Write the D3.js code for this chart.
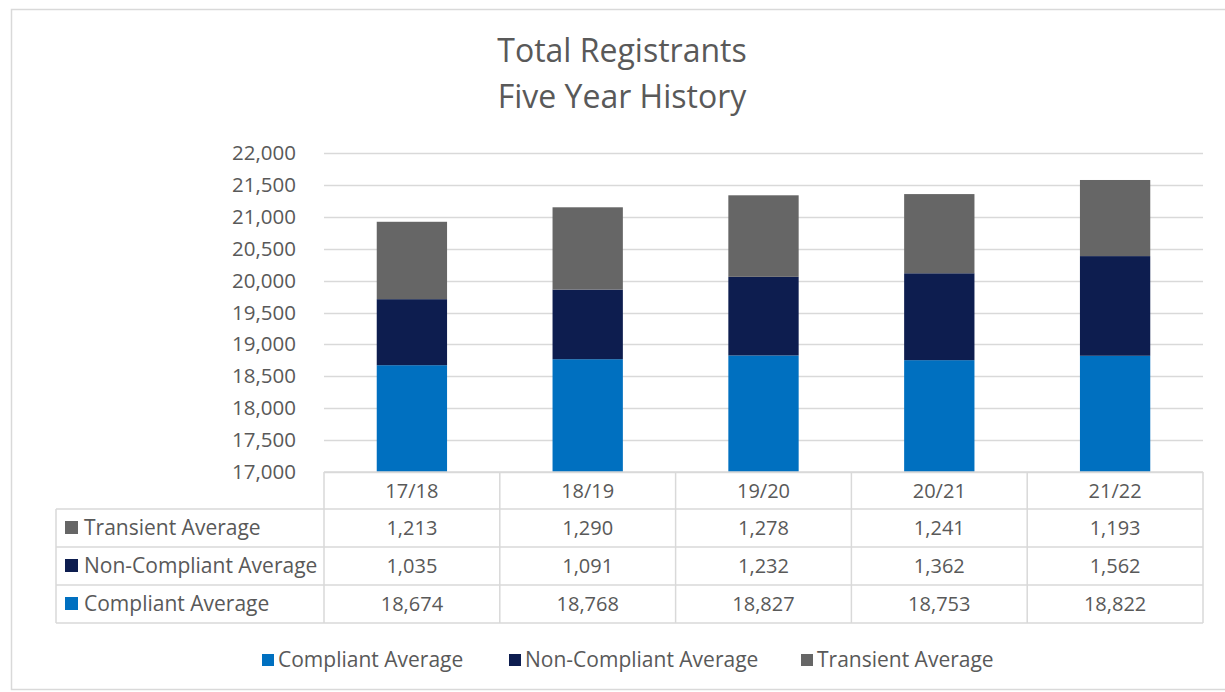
<!DOCTYPE html>
<html>
<head>
<meta charset="utf-8">
<script src="https://cdn.jsdelivr.net/npm/d3@7"></script>
<style>
  html, body { margin: 0; padding: 0; background: #fff; }
  svg { display: block; }
  text { font-family: "Open Sans", Lato, sans-serif; fill: #595959; }
</style>
</head>
<body>
<svg id="chart" width="1225" height="692"></svg>
<script>
const categories = ["17/18", "18/19", "19/20", "20/21", "21/22"];
const compliant = [18674, 18768, 18827, 18753, 18822];
const nonCompliant = [1035, 1091, 1232, 1362, 1562];
const transient = [1213, 1290, 1278, 1241, 1193];
const seriesNames = ["Compliant Average", "Non-Compliant Average", "Transient Average"];
const seriesColors = ["#0070C0", "#0D1D4F", "#666666"];
const yTicks = [17000, 17500, 18000, 18500, 19000, 19500, 20000, 20500, 21000, 21500, 22000];
const titleLines = ["Total Registrants", "Five Year History"];

const svg = d3.select("#chart");
const fmt = d3.format(",");
const FONT = "'Open Sans', Lato, sans-serif";
const NUM_SIZE = 20, WORD_SIZE = 21;

// outer border
svg.append("rect").attr("x", 11.5).attr("y", 9.5).attr("width", 1240).attr("height", 680)
  .attr("fill", "none").attr("stroke", "#d9d9d9").attr("stroke-width", 1.5);

// title
svg.append("g").selectAll("text").data(titleLines).join("text")
  .attr("x", 622).attr("y", (d, i) => 62 + i * 46)
  .attr("text-anchor", "middle").attr("font-size", 32).text(d => d);

const plotL = 324, plotR = 1203, plotT = 153, plotB = 472;
const x = d3.scaleBand().domain(categories).range([plotL, plotR]).paddingInner(0.6).paddingOuter(0.3);
const xCol = d3.scaleBand().domain(categories).range([plotL, plotR]);
const y = d3.scaleLinear().domain([17000, 22000]).range([plotB, plotT]);

// gridlines
svg.append("g").selectAll("line").data(yTicks).join("line")
  .attr("x1", plotL).attr("x2", plotR)
  .attr("y1", d => Math.round(y(d)) + 0.5).attr("y2", d => Math.round(y(d)) + 0.5)
  .attr("stroke", "#d9d9d9").attr("stroke-width", 1.3);

// y axis labels
const yAxis = d3.axisLeft(y).tickValues(yTicks).tickFormat(fmt).tickSize(0).tickPadding(0);
const yg = svg.append("g").attr("transform", `translate(${296},0)`).call(yAxis);
yg.select(".domain").remove();
yg.selectAll("text").attr("font-size", 20.5).attr("fill", "#595959").style("font-family", FONT);

// stacked bars
const rows = categories.map((c, i) => ({ cat: c, c0: compliant[i], c1: nonCompliant[i], c2: transient[i] }));
const stacked = d3.stack().keys(["c0", "c1", "c2"])(rows);
svg.append("g").selectAll("g").data(stacked).join("g")
  .attr("fill", (d, i) => seriesColors[i])
  .selectAll("rect").data(d => d).join("rect")
  .attr("x", d => x(d.data.cat))
  .attr("width", x.bandwidth())
  .attr("y", d => y(d[1]))
  .attr("height", d => y(Math.max(d[0], 17000)) - y(d[1]));

// data table
const tableLeft = 56;
const rowYs = [472, 509, 547, 585, 623];
const tableRows = [
  { name: seriesNames[2], color: seriesColors[2], vals: transient },
  { name: seriesNames[1], color: seriesColors[1], vals: nonCompliant },
  { name: seriesNames[0], color: seriesColors[0], vals: compliant }
];
const tg = svg.append("g");
const lineStyle = sel => sel.attr("stroke", "#d9d9d9").attr("stroke-width", 1.5);
tg.append("line").attr("x1", plotL).attr("x2", plotR).attr("y1", rowYs[0]).attr("y2", rowYs[0]).call(lineStyle);
rowYs.slice(1).forEach(yy => tg.append("line").attr("x1", tableLeft).attr("x2", plotR).attr("y1", yy).attr("y2", yy).call(lineStyle));
tg.append("line").attr("x1", tableLeft).attr("x2", tableLeft).attr("y1", rowYs[1]).attr("y2", rowYs[4]).call(lineStyle);
const colEdges = categories.map(c => xCol(c)).concat([plotR]);
colEdges.forEach(xx => tg.append("line").attr("x1", xx).attr("x2", xx).attr("y1", rowYs[0]).attr("y2", rowYs[4]).call(lineStyle));
tg.selectAll("text.hdr").data(categories).join("text").attr("class", "hdr")
  .attr("x", d => xCol(d) + xCol.bandwidth() / 2).attr("y", (rowYs[0] + rowYs[1]) / 2)
  .attr("dy", "0.35em").attr("text-anchor", "middle").attr("font-size", NUM_SIZE).text(d => d);
tableRows.forEach((r, ri) => {
  const cy = (rowYs[ri + 1] + rowYs[ri + 2]) / 2;
  tg.append("rect").attr("x", 65).attr("y", cy - 7).attr("width", 13).attr("height", 13).attr("fill", r.color);
  tg.append("text").attr("x", 84).attr("y", cy).attr("dy", "0.35em").attr("font-size", WORD_SIZE).text(r.name);
  tg.selectAll(null).data(r.vals).join("text")
    .attr("x", (d, i) => xCol(categories[i]) + xCol.bandwidth() / 2).attr("y", cy)
    .attr("dy", "0.35em").attr("text-anchor", "middle").attr("font-size", NUM_SIZE).text(d => fmt(d));
});

// legend
const legendX = [262, 509, 801];
const lg = svg.append("g");
seriesNames.forEach((n, i) => {
  lg.append("rect").attr("x", legendX[i]).attr("y", 654).attr("width", 12).attr("height", 12).attr("fill", seriesColors[i]);
  lg.append("text").attr("x", legendX[i] + 16).attr("y", 660).attr("dy", "0.35em").attr("font-size", WORD_SIZE).text(n);
});
</script>
</body>
</html>
